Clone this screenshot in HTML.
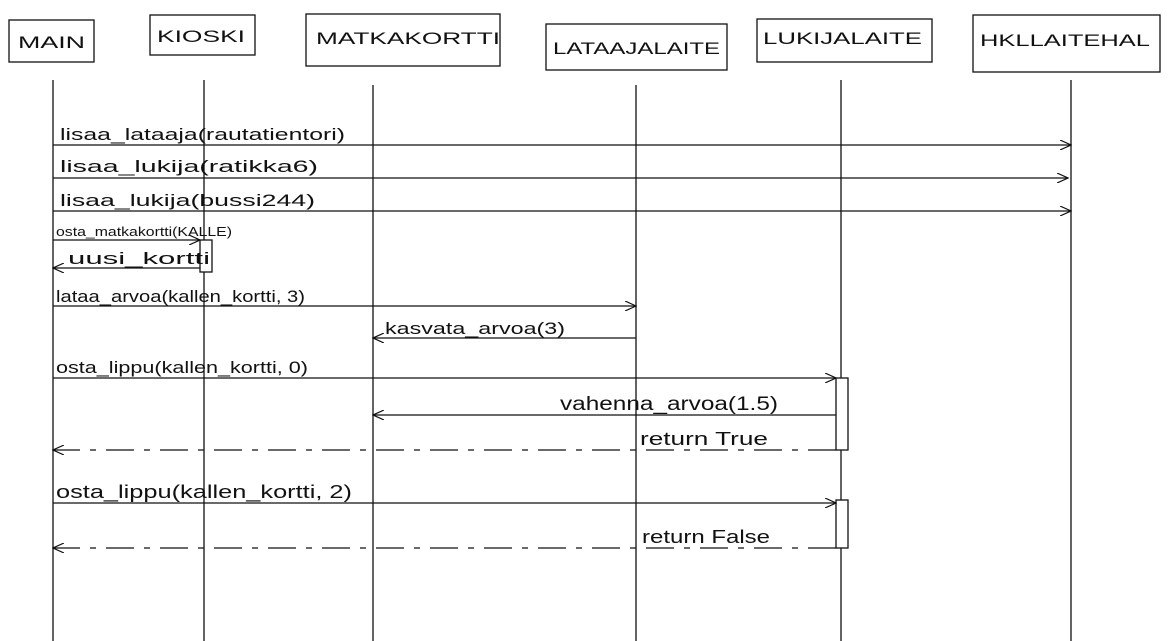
<!DOCTYPE html>
<html><head><meta charset="utf-8"><style>
html,body{margin:0;padding:0;background:#fff;}
svg{display:block;}
text{font-family:"Liberation Sans",sans-serif;fill:#111;}
</style></head><body>
<svg width="1174" height="641" viewBox="0 0 1174 641" xmlns="http://www.w3.org/2000/svg">
<defs>
<marker id="a" markerWidth="12" markerHeight="10" refX="11" refY="5" orient="auto" markerUnits="userSpaceOnUse">
<path d="M0,0 L11,5 L0,10" fill="none" stroke="#111" stroke-width="1.2"/></marker>
</defs>
<g fill="none" stroke="#111" stroke-width="1.3">
<rect x="9" y="20" width="85" height="42"/>
<rect x="150" y="15" width="105" height="40"/>
<rect x="306" y="14" width="194" height="52"/>
<rect x="546" y="24" width="181" height="46"/>
<rect x="757" y="19" width="175" height="43"/>
<rect x="973" y="15" width="187" height="57"/>
<line x1="53" y1="80" x2="53" y2="641"/>
<line x1="204" y1="80" x2="204" y2="641"/>
<line x1="373" y1="85" x2="373" y2="641"/>
<line x1="636" y1="85" x2="636" y2="641"/>
<line x1="841" y1="80" x2="841" y2="641"/>
<line x1="1071" y1="80" x2="1071" y2="641"/>
<rect x="200" y="240" width="12" height="32" fill="#fff"/>
<rect x="836" y="378" width="12" height="72" fill="#fff"/>
<rect x="836" y="500" width="12" height="48" fill="#fff"/>
<g marker-end="url(#a)">
<line x1="53" y1="145" x2="1071" y2="145"/>
<line x1="53" y1="178" x2="1068" y2="178"/>
<line x1="53" y1="211" x2="1071" y2="211"/>
<line x1="53" y1="240" x2="200" y2="240"/>
<line x1="200" y1="268" x2="53" y2="268"/>
<line x1="53" y1="306" x2="636" y2="306"/>
<line x1="636" y1="338" x2="373" y2="338"/>
<line x1="53" y1="378" x2="836" y2="378"/>
<line x1="836" y1="415" x2="373" y2="415"/>
<line x1="836" y1="450" x2="53" y2="450" stroke-dasharray="28,10,6,10"/>
<line x1="53" y1="503" x2="836" y2="503"/>
<line x1="836" y1="548" x2="53" y2="548" stroke-dasharray="28,10,6,10"/>
</g>
</g>
<g font-size="17" lengthAdjust="spacingAndGlyphs">
<text x="18" y="48" textLength="67" lengthAdjust="spacingAndGlyphs">MAIN</text>
<text x="157" y="42" textLength="88" lengthAdjust="spacingAndGlyphs">KIOSKI</text>
<text x="316" y="44" textLength="184" lengthAdjust="spacingAndGlyphs">MATKAKORTTI</text>
<text x="553" y="54" textLength="167" lengthAdjust="spacingAndGlyphs">LATAAJALAITE</text>
<text x="763" y="44" textLength="159" lengthAdjust="spacingAndGlyphs">LUKIJALAITE</text>
<text x="980" y="46" textLength="170" lengthAdjust="spacingAndGlyphs">HKLLAITEHAL</text>
<text x="60" y="140" textLength="285" lengthAdjust="spacingAndGlyphs">lisaa_lataaja(rautatientori)</text>
<text x="60" y="172" textLength="258" lengthAdjust="spacingAndGlyphs">lisaa_lukija(ratikka6)</text>
<text x="60" y="206" textLength="255" lengthAdjust="spacingAndGlyphs">lisaa_lukija(bussi244)</text>
<text x="56" y="236" font-size="13" textLength="176" lengthAdjust="spacingAndGlyphs">osta_matkakortti(KALLE)</text>
<text x="68" y="264" textLength="142" lengthAdjust="spacingAndGlyphs">uusi_kortti</text>
<text x="56" y="302" textLength="249" lengthAdjust="spacingAndGlyphs">lataa_arvoa(kallen_kortti, 3)</text>
<text x="385" y="334" textLength="180" lengthAdjust="spacingAndGlyphs">kasvata_arvoa(3)</text>
<text x="56" y="373" textLength="252" lengthAdjust="spacingAndGlyphs">osta_lippu(kallen_kortti, 0)</text>
<text x="560" y="410" font-size="19" textLength="218" lengthAdjust="spacingAndGlyphs">vahenna_arvoa(1.5)</text>
<text x="640" y="445" font-size="18" textLength="128" lengthAdjust="spacingAndGlyphs">return True</text>
<text x="56" y="498" font-size="18" textLength="296" lengthAdjust="spacingAndGlyphs">osta_lippu(kallen_kortti, 2)</text>
<text x="642" y="543" font-size="18" textLength="128" lengthAdjust="spacingAndGlyphs">return False</text>
</g>
</svg>
</body></html>
